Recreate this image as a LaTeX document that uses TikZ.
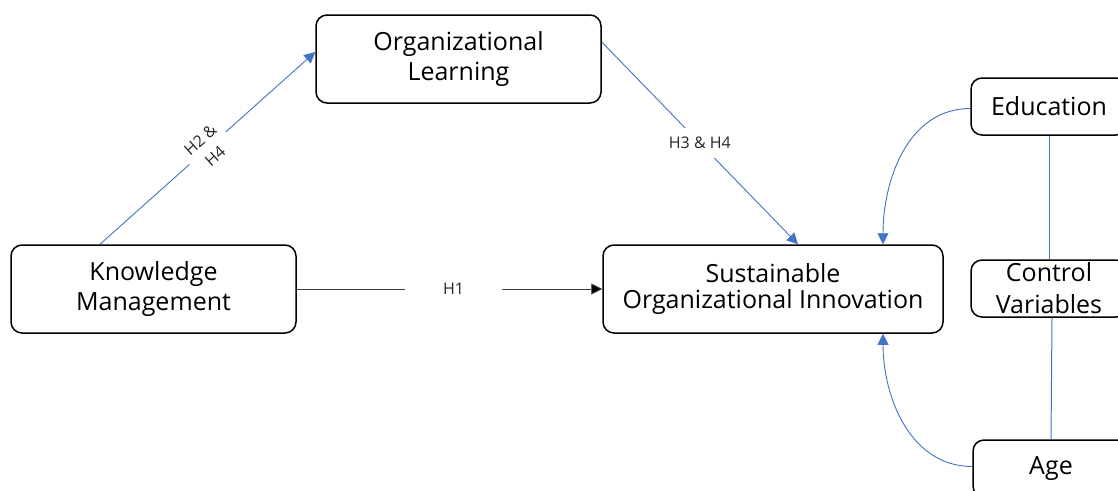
\documentclass[tikz,border=0pt]{standalone}
\usepackage{fontspec}
\setmainfont{Open Sans}
\usetikzlibrary{arrows.meta,calc}
\definecolor{linkblue}{HTML}{4472C4}
\definecolor{darkline}{HTML}{404040}
\tikzset{
  box/.style={draw=black, line width=1.5pt, rounded corners=11pt, align=center,
    font=\fontsize{25}{32}\selectfont, inner sep=0pt},
  bluearrow/.style={draw=linkblue, line width=0.9pt, -{Triangle[length=11pt,width=11pt]}},
  blueline/.style={draw=linkblue, line width=1pt},
  hlabel/.style={fill=white, font=\fontsize{16}{22}\selectfont, text=black!85, align=center}
}
\begin{document}
\begin{tikzpicture}[x=1pt,y=-1pt]
\clip (0,0) rectangle (1118,490);
\fill[white] (0,0) rectangle (1118,490);
\node[box, minimum width=285pt, minimum height=88pt] (OL) at (458.5,59) {\raisebox{-3pt}{\shortstack{Organizational\\[3pt]Learning}}};
\node[box, minimum width=285pt, minimum height=88pt] (KM) at (153.5,289) {\raisebox{-3pt}{\shortstack{Knowledge\\[3pt]Management}}};
\node[box, minimum width=340pt, minimum height=88pt] (SOI) at (773,289) {\raisebox{-3pt}{\shortstack{Sustainable\\[3pt]Organizational Innovation}}};
\node[box, minimum width=156pt, minimum height=57pt] (EDU) at (1049,106.5) {Education};
\node[box, minimum width=156pt, minimum height=57pt] (CV) at (1049,288.5) {\fontsize{25}{30}\selectfont Control\\Variables};
\node[box, minimum width=156pt, minimum height=57pt] (AGE) at (1051,468.5) {Age};

\draw[bluearrow] ([xshift=-53.5pt]KM.north) -- node[hlabel, sloped, midway, inner sep=6pt, minimum height=46pt] {H2 \&\\H4} ([yshift=7pt]OL.west);
\draw[bluearrow] ([yshift=17pt]OL.east) -- node[hlabel, midway, inner xsep=3pt, inner ysep=9pt] {H3 \& H4} ([xshift=25pt]SOI.north);
\draw[darkline, line width=0.9pt, -{Triangle[length=11pt,width=11pt,fill=black]}] (KM.east) -- node[hlabel, midway, inner xsep=38pt, xshift=4pt] {H1} (SOI.west);
\draw[bluearrow] ([yshift=-2pt]EDU.west) to[out=180,in=90,looseness=1.0] ([xshift=110pt]SOI.north);
\draw[bluearrow] ([yshift=2pt]AGE.west) to[out=180,in=-90,looseness=1.0] ([xshift=110pt]SOI.south);
\draw[blueline] (EDU.south) -- (CV.north);
\draw[blueline] ([xshift=3pt]CV.south) -- (AGE.north);
\end{tikzpicture}
\end{document}
